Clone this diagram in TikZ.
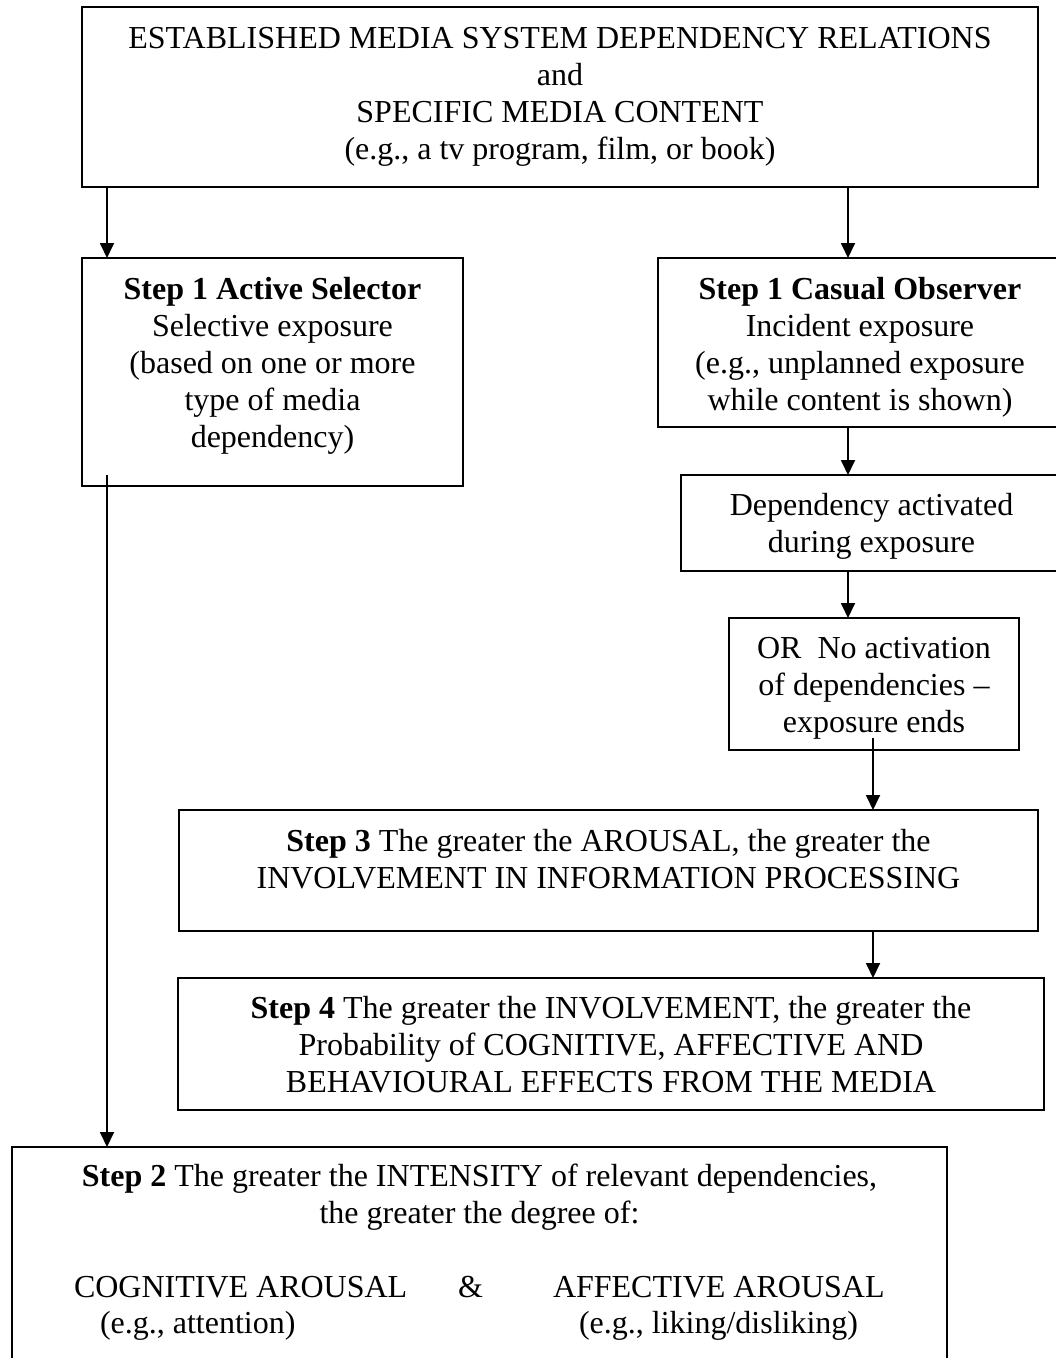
\documentclass[tikz,border=0pt]{standalone}
\usepackage{fontspec}
\setmainfont{Liberation Serif}
\usetikzlibrary{arrows.meta}
\tikzset{
  box/.style={draw=black, line width=2pt, inner sep=0pt, outer sep=0pt, anchor=north west},
  txt/.style={inner sep=0pt, outer sep=0pt, align=center, anchor=base, font=\fontsize{32}{37}\selectfont},
  ltxt/.style={inner sep=0pt, outer sep=0pt, anchor=base west, font=\fontsize{32}{37}\selectfont},
  arr/.style={line width=1.8pt, -{Triangle[length=15pt, width=14pt]}},
}
\begin{document}
\begin{tikzpicture}[x=1pt, y=-1pt]
\clip (0,0) rectangle (1056,1358);
\fill[white] (0,0) rectangle (1056,1358);

% boxes
\node[box, minimum width=956pt, minimum height=180pt] (top) at (82,7) {};
\node[box, minimum width=381pt, minimum height=228pt] (sel) at (82,258) {};
\node[box, minimum width=404pt, minimum height=169pt] (cas) at (658,258) {};
\node[box, minimum width=381pt, minimum height=96pt] (dep) at (681,475) {};
\node[box, minimum width=290pt, minimum height=132pt] (orb) at (729,618) {};
\node[box, minimum width=859pt, minimum height=121pt] (s3) at (179,810) {};
\node[box, minimum width=866pt, minimum height=132pt] (s4) at (178,978) {};
\node[box, minimum width=935pt, minimum height=240pt] (s2) at (12,1147) {};

% texts (base anchor = baseline of the last line)
\node[txt] (ttop) at ([yshift=-152pt]top.north) {ESTABLISHED MEDIA SYSTEM DEPENDENCY RELATIONS\\and\\SPECIFIC MEDIA CONTENT\\(e.g., a tv program, film, or book)};
\node[txt] (tsel) at ([yshift=-189pt]sel.north) {\textbf{Step 1 Active Selector}\\Selective exposure\\(based on one or more\\type of media\\dependency)};
\node[txt] (tcas) at ([yshift=-152pt]cas.north) {\textbf{Step 1 Casual Observer}\\Incident exposure\\(e.g., unplanned exposure\\while content is shown)};
\node[txt] (tdep) at ([yshift=-77pt]dep.north) {Dependency activated\\during exposure};
\node[txt] (tor) at ([yshift=-114pt]orb.north) {OR\ \ No activation\\of dependencies --\\exposure ends};
\node[txt] (ts3) at ([yshift=-78pt]s3.north) {\textbf{Step 3} The greater the AROUSAL, the greater the\\INVOLVEMENT IN INFORMATION PROCESSING};
\node[txt] (ts4) at ([yshift=-114pt]s4.north) {\textbf{Step 4} The greater the INVOLVEMENT, the greater the\\Probability of COGNITIVE, AFFECTIVE AND\\BEHAVIOURAL EFFECTS FROM THE MEDIA};
\node[txt] (ts2) at ([yshift=-76pt]s2.north) {\textbf{Step 2} The greater the INTENSITY of relevant dependencies,\\the greater the degree of:};
\node[ltxt] (cog) at (74,1297) {COGNITIVE AROUSAL};
\node[ltxt] (amp) at (458,1297) {\&};
\node[ltxt] (aff) at (553,1297) {AFFECTIVE AROUSAL};
\node[ltxt] (cogex) at (100,1333) {(e.g., attention)};
\node[ltxt] (affex) at (579,1333) {(e.g., liking/disliking)};

% connector x positions
\coordinate (xL) at (107,0);
\coordinate (xR) at (848,0);
\coordinate (xO) at (873,0);

% connectors
\draw[arr] (top.south -| xL) -- (sel.north -| xL);
\draw[arr] (top.south -| xR) -- (cas.north -| xR);
\draw[arr] (cas.south -| xR) -- (dep.north -| xR);
\draw[arr] (dep.south -| xR) -- (orb.north -| xR);
\draw[arr] ([yshift=12pt]orb.south -| xO) -- (s3.north -| xO);
\draw[arr] (s3.south -| xO) -- (s4.north -| xO);
\draw[arr] ([yshift=11pt]sel.south -| xL) -- (s2.north -| xL);
\end{tikzpicture}
\end{document}
